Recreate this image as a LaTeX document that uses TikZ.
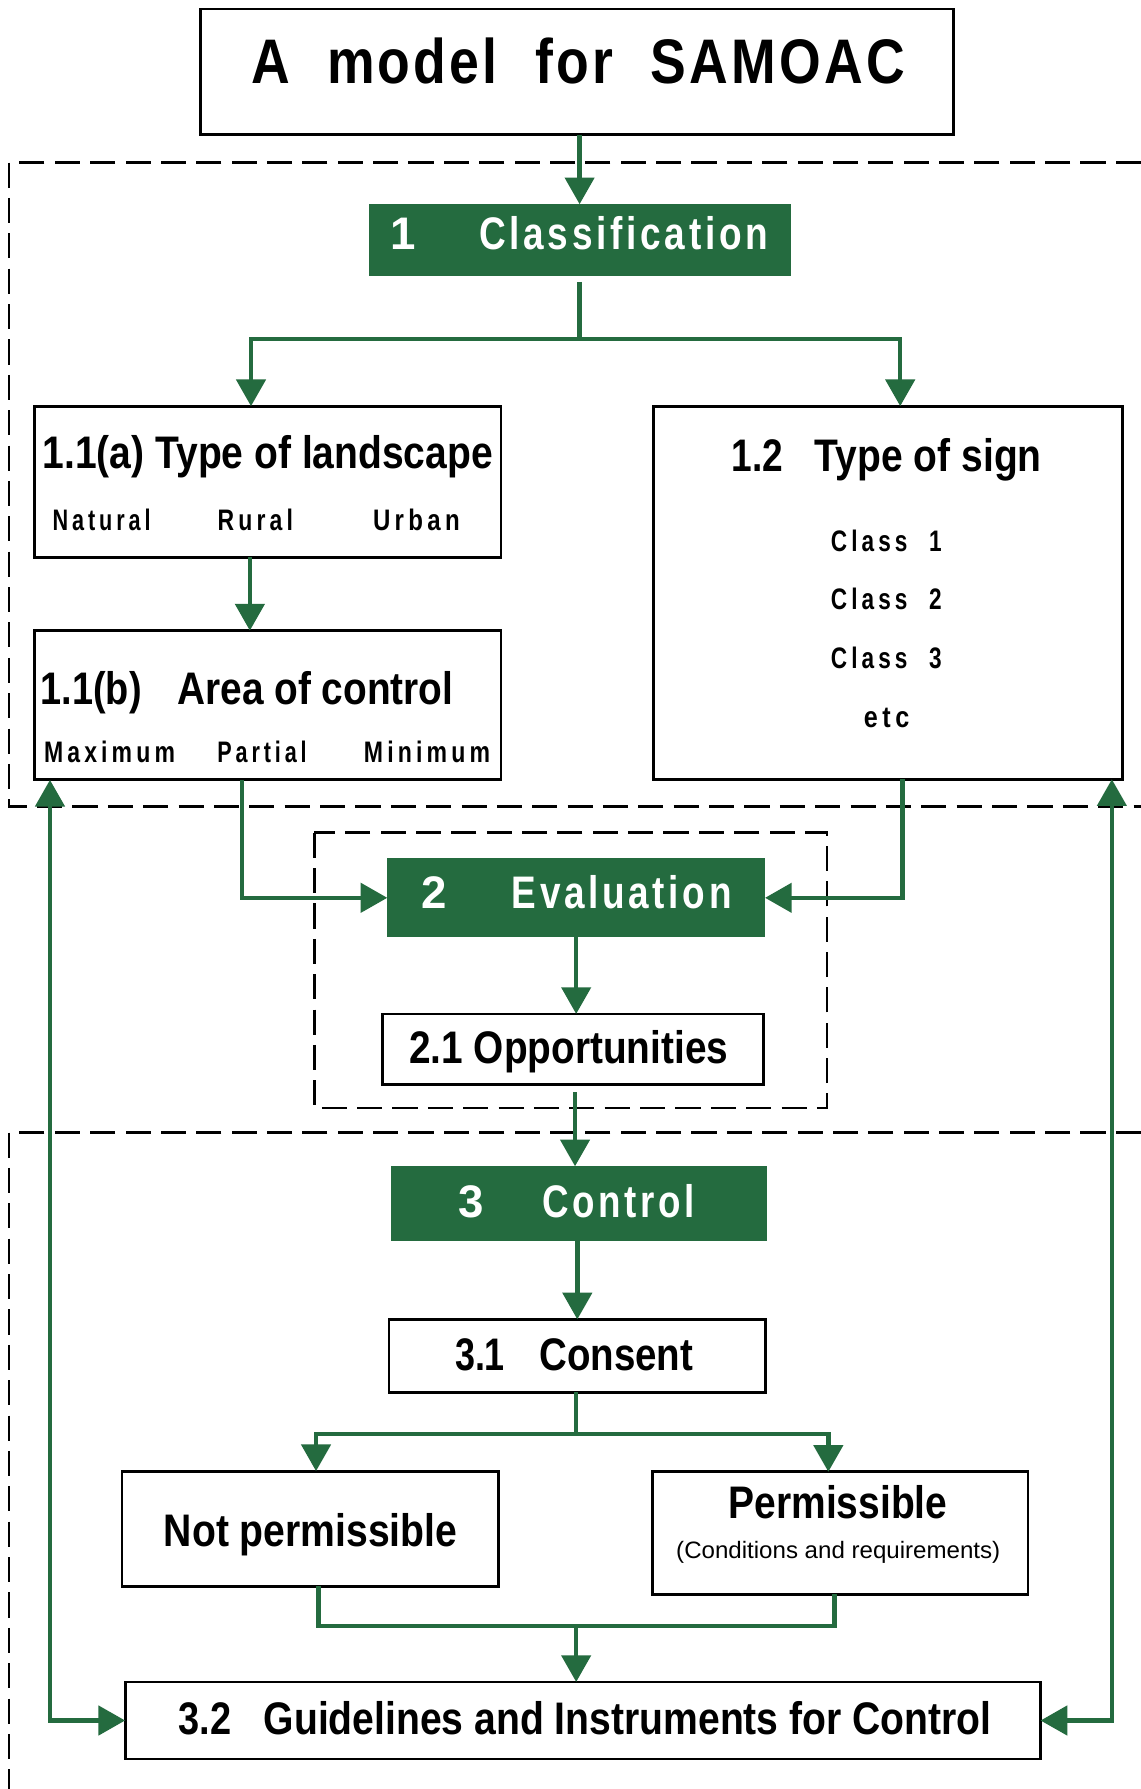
\documentclass[tikz,border=0pt]{standalone}
\usepackage{fontspec}
\setmainfont{Liberation Sans}
\newfontfamily\lsS[LetterSpace=18]{Liberation Sans}
\newfontfamily\lsW[LetterSpace=10]{Liberation Sans}
\newfontfamily\lsT[LetterSpace=6]{Liberation Sans}
\usepackage{graphicx}
\usetikzlibrary{arrows.meta}
\definecolor{sgreen}{HTML}{246B3F}
\newcommand\fitto[2]{\resizebox{#1}{\height}{#2}}
\tikzset{
  box/.style={draw=black, line width=1.2pt, fill=white, rectangle, inner sep=0pt, outer sep=0pt},
  gbox/.style={fill=sgreen, draw=none, rectangle, inner sep=0pt, outer sep=0pt},
  txt/.style={inner sep=0pt, outer sep=0pt, anchor=base west, font=\bfseries\fontsize{20}{24}\selectfont},
  ttl/.style={txt, font=\lsT\bfseries\fontsize{27.6}{32}\selectfont},
  small/.style={txt, font=\lsS\bfseries\fontsize{13}{15}\selectfont},
  tiny/.style={txt, font=\fontsize{10.4}{12}\selectfont},
  wtxt/.style={txt, text=white, font=\lsW\bfseries\fontsize{20}{24}\selectfont},
  conn/.style={draw=sgreen, line width=2pt},
  arr/.style={conn, -{Triangle[width=12.7pt,length=11.7pt]}},
  darr/.style={conn, {Triangle[width=12.7pt,length=11.7pt]}-{Triangle[width=12.7pt,length=11.7pt]}},
  dline/.style={draw=black, line width=1.1pt, dash pattern=on 11pt off 4.5pt}
}
\begin{document}
\begin{tikzpicture}[x=0.5pt,y=-0.5pt]
\useasboundingbox (0,0) rectangle (1000,1568);
\fill[white] (0,0) rectangle (1000,1568);
% dashed frames
\draw[dline] (1000,142.5) -- (8,142.5) -- (8,707) -- (1000,707);
\draw[dline] (275.5,729.8) rectangle (725,971.3);
\draw[dline] (1000,992.7) -- (8,992.7) -- (8,1568);
% boxes
\node[box, minimum width=330pt, minimum height=55pt] (title) at (506,63) {};
\node[gbox, minimum width=185pt, minimum height=31.5pt] (cls) at (508,210.5) {};
\node[box, minimum width=204.5pt, minimum height=66.25pt] (land) at (234.5,422.25) {};
\node[box, minimum width=205.5pt, minimum height=163.5pt] (sign) at (778.5,519.5) {};
\node[box, minimum width=204.5pt, minimum height=65.4pt] (area) at (234.5,618.1) {};
\node[gbox, minimum width=165.5pt, minimum height=34.6pt] (eval) at (505,786.9) {};
\node[box, minimum width=166.75pt, minimum height=30.9pt] (opp) at (502.25,919.6) {};
\node[gbox, minimum width=164.75pt, minimum height=32.55pt] (ctrl) at (507.25,1054.75) {};
\node[box, minimum width=165pt, minimum height=31.95pt] (cons) at (506,1188.35) {};
\node[box, minimum width=165pt, minimum height=50.4pt] (notp) at (272,1339.8) {};
\node[box, minimum width=164.5pt, minimum height=53.7pt] (perm) at (736.5,1343.7) {};
\node[box, minimum width=401.15pt, minimum height=33.75pt] (guide) at (510.85,1507.95) {};
% texts
\node[ttl] (ttitle) at (220,73.1) {\fitto{286.5pt}{A\hspace{0.7em}model\hspace{0.7em}for\hspace{0.7em}SAMOAC}};
\node[wtxt] (tcls1) at (342.4,219.1) {1};
\node[wtxt] (tcls2) at (420.1,219.1) {\fitto{126.5pt}{Classification}};
\node[txt] (tland) at (37.4,410.5) {\fitto{197.3pt}{1.1(a) Type of landscape}};
\node[small] (tnat) at (46.2,464.6) {\fitto{42.9pt}{Natural}};
\node[small] (trur) at (190.8,464.6) {\fitto{33pt}{Rural}};
\node[small] (turb) at (327,464.6) {\fitto{38pt}{Urban}};
\node[txt] (tsign1) at (641.3,413.4) {\fitto{22.6pt}{1.2}};
\node[txt] (tsign2) at (714.3,413.4) {\fitto{99.35pt}{Type of sign}};
\node[small] (tc1) at (728.3,483.5) {\fitto{48.5pt}{Class\hspace{0.95em}1}};
\node[small] (tc2) at (728.3,534.6) {\fitto{48.5pt}{Class\hspace{0.95em}2}};
\node[small] (tc3) at (728.3,585.7) {\fitto{48.5pt}{Class\hspace{0.95em}3}};
\node[small] (tetc) at (757.2,637.5) {\fitto{19.9pt}{etc}};
\node[txt] (tarea1) at (35.6,617.9) {\fitto{44.3pt}{1.1(b)}};
\node[txt] (tarea2) at (155.4,617.9) {\fitto{121pt}{Area of control}};
\node[small] (tmax) at (38.6,668.4) {\fitto{57.4pt}{Maximum}};
\node[small] (tpar) at (190.5,668.4) {\fitto{39.15pt}{Partial}};
\node[small] (tmin) at (319,668.4) {\fitto{55.25pt}{Minimum}};
\node[wtxt] (tev1) at (369.6,796) {2};
\node[wtxt] (tev2) at (448.5,796) {\fitto{96.4pt}{Evaluation}};
\node[txt] (topp) at (358.7,931.9) {\fitto{139.8pt}{2.1 Opportunities}};
\node[wtxt] (tct1) at (401.7,1066.9) {3};
\node[wtxt] (tct2) at (475.3,1066.9) {\fitto{66.9pt}{Control}};
\node[txt] (tcons1) at (398.8,1201.3) {\fitto{21.9pt}{3.1}};
\node[txt] (tcons2) at (472.7,1201.3) {\fitto{67.45pt}{Consent}};
\node[txt] (tnotp) at (143.7,1355.5) {\fitto{128.6pt}{Not permissible}};
\node[txt] (tperm) at (638.6,1330.7) {\fitto{95.9pt}{Permissible}};
\node[tiny] (tcond) at (592.7,1365.8) {\fitto{142pt}{(Conditions and requirements)}};
\node[txt] (tgd1) at (156.6,1520.6) {\fitto{23.15pt}{3.2}};
\node[txt] (tgd2) at (231.2,1520.6) {\fitto{318.9pt}{Guidelines and Instruments for Control}};
% connector points
\coordinate (s1) at (508,297);
\coordinate (s1l) at (220,297);
\coordinate (s1r) at (789,297);
\coordinate (la) at (219,0);
\coordinate (k1) at (212,786.9);
\coordinate (k2) at (791,786.9);
\coordinate (oc) at (504,0);
\coordinate (s3) at (505,1256.8);
\coordinate (s3l) at (277,1256.8);
\coordinate (s3r) at (726,1256.8);
\coordinate (m1) at (279,1425);
\coordinate (m2) at (731.5,1425);
\coordinate (mc) at (505,1425);
\coordinate (lx) at (43.8,0);
\coordinate (rx) at (974.5,0);
% connectors
\draw[arr] (cls.north |- title.south) -- (cls.north);
\draw[conn, shorten <=2.5pt] (cls.south -| s1) -- (s1);
\draw[arr] (s1) -- (s1l) -- (s1l |- land.north);
\draw[arr] (s1) -- (s1r) -- (s1r |- sign.north);
\draw[arr] (land.south -| la) -- (area.north -| la);
\draw[arr] (area.south -| k1) -- (k1) -- (eval.west);
\draw[arr] (sign.south -| k2) -- (k2) -- (eval.east);
\draw[arr] (eval.south) -- (eval.south |- opp.north);
\draw[arr, shorten <=3.5pt] (opp.south -| oc) -- (ctrl.north -| oc);
\draw[arr] (cons.north |- ctrl.south) -- (cons.north);
\draw[conn] (cons.south -| s3) -- (s3);
\draw[arr] (s3) -- (s3l) -- (s3l |- notp.north);
\draw[arr] (s3) -- (s3r) -- (s3r |- perm.north);
\draw[conn] (notp.south -| m1) -- (m1) -- (m2) -- (perm.south -| m2);
\draw[arr] (mc) -- (mc |- guide.north);
\draw[darr] (area.south -| lx) -- (lx |- guide.west) -- (guide.west);
\draw[darr] (sign.south -| rx) -- (rx |- guide.east) -- (guide.east);
\end{tikzpicture}
\end{document}
